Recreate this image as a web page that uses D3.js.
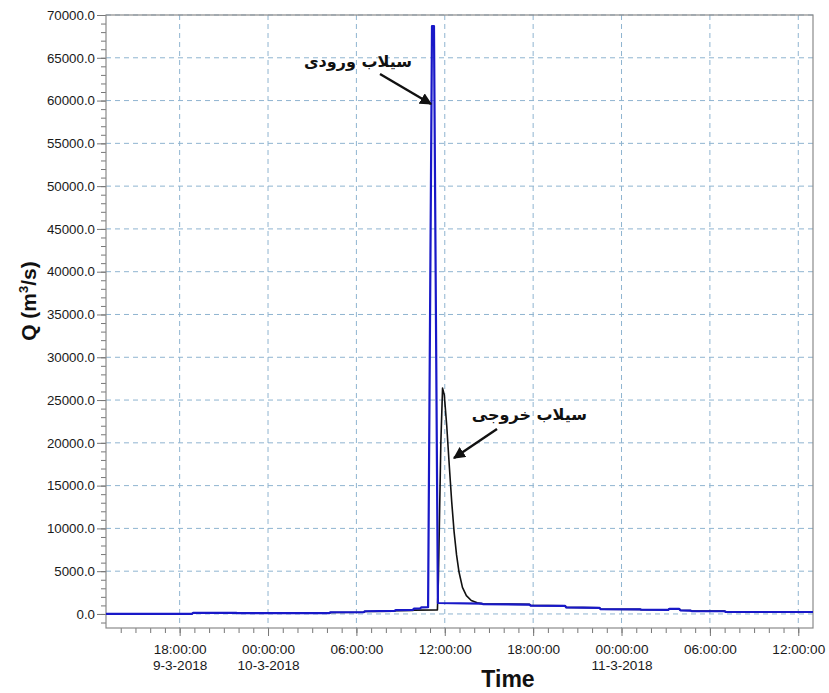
<!DOCTYPE html>
<html>
<head>
<meta charset="utf-8">
<script src="https://cdn.jsdelivr.net/npm/d3@7"></script>
<style>
  body { margin: 0; background: #fff; }
  svg { display: block; }
</style>
</head>
<body>
<svg id="chart" width="829" height="693"></svg>
<script>
// ---------------- data ----------------
const inflowTimes = [
  "2018-03-09 13:00","2018-03-09 18:50","2018-03-09 18:55","2018-03-09 21:50","2018-03-09 21:55",
  "2018-03-10 04:10","2018-03-10 04:15","2018-03-10 06:30","2018-03-10 06:35","2018-03-10 08:35",
  "2018-03-10 08:40","2018-03-10 09:50","2018-03-10 09:55","2018-03-10 10:20","2018-03-10 10:25",
  "2018-03-10 10:52","2018-03-10 11:08","2018-03-10 11:16","2018-03-10 11:32","2018-03-10 14:30",
  "2018-03-10 14:35","2018-03-10 17:45","2018-03-10 17:50","2018-03-10 20:10","2018-03-10 20:15",
  "2018-03-10 22:30","2018-03-10 22:35","2018-03-11 01:15","2018-03-11 01:20","2018-03-11 03:10",
  "2018-03-11 03:15","2018-03-11 03:55","2018-03-11 04:00","2018-03-11 04:40","2018-03-11 04:45",
  "2018-03-11 07:00","2018-03-11 07:05","2018-03-11 13:00"
];
const inflowValues = [
  0, 20, 120, 120, 90,
  110, 200, 220, 320, 350,
  450, 480, 620, 650, 780,
  800, 68700, 68700, 1280, 1220,
  1150, 1100, 980, 950, 760,
  720, 560, 530, 500, 480,
  600, 600, 420, 400, 340,
  320, 230, 230
];

const outflowTimes = [
  "2018-03-09 13:00","2018-03-09 18:50","2018-03-09 18:55","2018-03-09 21:50","2018-03-09 21:55",
  "2018-03-10 04:10","2018-03-10 04:15","2018-03-10 06:30","2018-03-10 06:35","2018-03-10 08:35",
  "2018-03-10 08:40","2018-03-10 09:50","2018-03-10 09:55","2018-03-10 11:30","2018-03-10 11:34",
  "2018-03-10 11:44","2018-03-10 11:51","2018-03-10 11:58","2018-03-10 12:08","2018-03-10 12:18",
  "2018-03-10 12:28","2018-03-10 12:38","2018-03-10 12:48","2018-03-10 12:58","2018-03-10 13:12",
  "2018-03-10 13:28","2018-03-10 13:48","2018-03-10 14:12","2018-03-10 14:35","2018-03-10 17:45",
  "2018-03-10 17:50","2018-03-10 20:10","2018-03-10 20:15","2018-03-10 22:30","2018-03-10 22:35",
  "2018-03-11 01:15","2018-03-11 01:20","2018-03-11 03:10","2018-03-11 03:15","2018-03-11 03:55",
  "2018-03-11 04:00","2018-03-11 04:40","2018-03-11 04:45","2018-03-11 07:00","2018-03-11 07:05",
  "2018-03-11 13:00"
];
const outflowValues = [
  0, 20, 100, 100, 80,
  100, 180, 200, 280, 330,
  380, 400, 450, 480, 4000,
  20000, 26400, 25600, 22000, 17500,
  13200, 9600, 6900, 4900, 3100,
  2150, 1580, 1300, 1180, 1120,
  1000, 960, 770, 730, 570,
  540, 510, 490, 610, 610,
  430, 410, 350, 330, 240,
  240
];

const yTicks = [0,5000,10000,15000,20000,25000,30000,35000,40000,45000,50000,55000,60000,65000,70000];
const xTickTimes = ["2018-03-09 18:00","2018-03-10 00:00","2018-03-10 06:00","2018-03-10 12:00",
                    "2018-03-10 18:00","2018-03-11 00:00","2018-03-11 06:00","2018-03-11 12:00"];
const xTickLabels = [["18:00:00","9-3-2018"],["00:00:00","10-3-2018"],["06:00:00"],["12:00:00"],
                     ["18:00:00"],["00:00:00","11-3-2018"],["06:00:00"],["12:00:00"]];
const inflowLabel = "سیلاب ورودی";
const outflowLabel = "سیلاب خروجی";

// ---------------- setup ----------------
const parse = d3.timeParse("%Y-%m-%d %H:%M");
const inflow = inflowTimes.map((t, i) => ({ t: parse(t), v: inflowValues[i] }));
const outflow = outflowTimes.map((t, i) => ({ t: parse(t), v: outflowValues[i] }));
const xTicks = xTickTimes.map(parse);

const svg = d3.select("#chart");
const L = 106, R = 813, T = 15, B = 628;

const x = d3.scaleTime()
  .domain([parse("2018-03-09 13:00"), parse("2018-03-11 13:00")])
  .range([L, R]);
const y = d3.scaleLinear().domain([-1640, 70000]).range([B, T]);

const gridColor = "#8fb4d0";
const tickColor = "#777";
const font = "'Liberation Sans', Arial, sans-serif";

// gridlines
svg.append("g").selectAll("line").data(yTicks).join("line")
  .attr("x1", L).attr("x2", R)
  .attr("y1", d => y(d)).attr("y2", d => y(d))
  .attr("stroke", gridColor).attr("stroke-width", 1).attr("stroke-dasharray", "5,4");
svg.append("g").selectAll("line").data(xTicks).join("line")
  .attr("x1", d => x(d)).attr("x2", d => x(d))
  .attr("y1", T).attr("y2", B)
  .attr("stroke", gridColor).attr("stroke-width", 1).attr("stroke-dasharray", "5,4");

// minor ticks
const yMinor = d3.range(-1000, 70001, 1000);
const yMinorAxis = svg.append("g").attr("transform", `translate(${L},0)`)
  .call(d3.axisLeft(y).tickValues(yMinor).tickSize(5).tickFormat(""));
const xMinor = d3.timeHour.range(parse("2018-03-09 14:00"), parse("2018-03-11 13:00"));
const xMinorAxis = svg.append("g").attr("transform", `translate(0,${B})`)
  .call(d3.axisBottom(x).tickValues(xMinor).tickSize(5).tickFormat(""));

// major ticks
const yAxis = svg.append("g").attr("transform", `translate(${L},0)`)
  .call(d3.axisLeft(y).tickValues(yTicks).tickSize(9).tickPadding(2).tickFormat(d3.format(".1f")));
const xAxis = svg.append("g").attr("transform", `translate(0,${B})`)
  .call(d3.axisBottom(x).tickValues(xTicks).tickSize(8).tickFormat(""));

[yMinorAxis, xMinorAxis, yAxis, xAxis].forEach(g => {
  g.select(".domain").remove();
  g.selectAll(".tick line").attr("stroke", tickColor);
});
yAxis.selectAll(".tick text")
  .attr("font-family", font).attr("font-size", 13.3).attr("fill", "#1a1a1a");

// x tick labels (multi-line)
xAxis.selectAll(".tick").each(function(d, i) {
  const txt = d3.select(this).select("text");
  txt.attr("font-family", font).attr("font-size", 13.6).attr("fill", "#1a1a1a")
     .attr("y", 0).attr("dy", null);
  xTickLabels[i].forEach((s, j) => {
    txt.append("tspan").attr("x", 0).attr("y", 26 + j * 16).text(s);
  });
});

// frame
svg.append("rect").attr("x", L).attr("y", T).attr("width", R - L).attr("height", B - T)
  .attr("fill", "none").attr("stroke", "#8a8a8a").attr("stroke-width", 1.2);

// lines
const line = d3.line().x(d => x(d.t)).y(d => y(d.v));
svg.append("clipPath").attr("id", "clip").append("rect")
  .attr("x", L).attr("y", T).attr("width", R - L).attr("height", B - T);

svg.append("path").datum(outflow).attr("d", line)
  .attr("fill", "none").attr("stroke", "#111").attr("stroke-width", 1.6)
  .attr("stroke-linejoin", "round").attr("clip-path", "url(#clip)");
svg.append("path").datum(inflow).attr("d", line)
  .attr("fill", "none").attr("stroke", "#1818c8").attr("stroke-width", 2.2)
  .attr("stroke-linejoin", "round").attr("clip-path", "url(#clip)");

// arrow marker
svg.append("defs").append("marker")
  .attr("id", "arrow").attr("viewBox", "0 0 10 10").attr("refX", 9).attr("refY", 5)
  .attr("markerWidth", 5).attr("markerHeight", 5).attr("orient", "auto")
  .append("path").attr("d", "M0,0 L10,5 L0,10 z").attr("fill", "#111");

// annotations
const inPeak = inflow[16];
svg.append("text")
  .attr("x", 412).attr("y", 67)
  .attr("text-anchor", "end")
  .attr("font-family", "'DejaVu Sans', sans-serif").attr("font-size", 16)
  .attr("font-weight", "bold").attr("fill", "#111")
  .text(inflowLabel);
svg.append("line")
  .attr("x1", 380).attr("y1", 74).attr("x2", x(inPeak.t) - 1).attr("y2", 104)
  .attr("stroke", "#111").attr("stroke-width", 2.4).attr("marker-end", "url(#arrow)");

svg.append("text")
  .attr("x", 587).attr("y", 420)
  .attr("text-anchor", "end")
  .attr("font-family", "'DejaVu Sans', sans-serif").attr("font-size", 16)
  .attr("font-weight", "bold").attr("fill", "#111")
  .text(outflowLabel);
svg.append("line")
  .attr("x1", 497).attr("y1", 429).attr("x2", 454).attr("y2", 458)
  .attr("stroke", "#111").attr("stroke-width", 2.4).attr("marker-end", "url(#arrow)");

// axis titles
const yt = svg.append("text")
  .attr("transform", "translate(36,301) rotate(-90)")
  .attr("text-anchor", "middle")
  .attr("font-family", font).attr("font-size", 21).attr("font-weight", "bold").attr("fill", "#111");
yt.append("tspan").text("Q (m");
yt.append("tspan").attr("font-size", 13).attr("dy", -8).text("3");
yt.append("tspan").attr("dy", 8).text("/s)");

svg.append("text")
  .attr("x", 508).attr("y", 687).attr("text-anchor", "middle")
  .attr("font-family", font).attr("font-size", 23).attr("font-weight", "bold").attr("fill", "#111")
  .text("Time");
</script>
</body>
</html>
